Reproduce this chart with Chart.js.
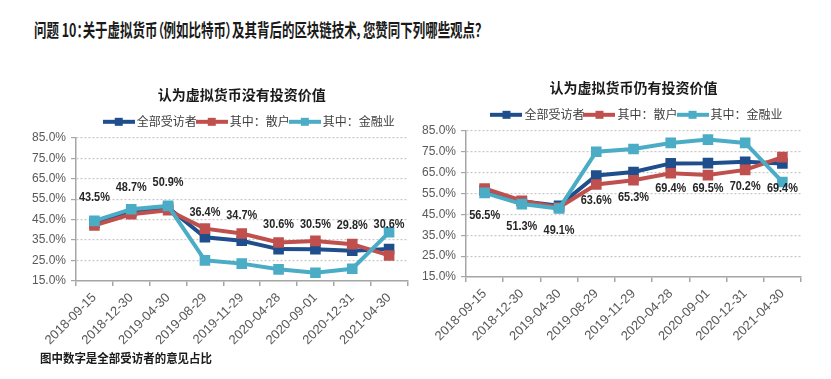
<!DOCTYPE html>
<html><head><meta charset="utf-8">
<script src="https://cdn.jsdelivr.net/npm/chart.js@4"></script>
<style>
html,body{margin:0;padding:0;background:#fff;width:831px;height:379px;overflow:hidden;position:relative;font-family:"Noto Sans CJK SC",sans-serif;}
#title{position:absolute;left:34px;top:16px;font-size:18px;font-weight:bold;color:#1a1a1a;white-space:nowrap;font-feature-settings:"palt";transform-origin:0 50%;}
#note{position:absolute;left:40px;top:349px;font-size:12px;font-weight:bold;color:#1a1a1a;white-space:nowrap;transform-origin:0 50%;}
#c1{position:absolute;left:0;top:70px;}
#c2{position:absolute;left:415px;top:70px;}
</style></head>
<body>
<div id="title">问题 10：关于虚拟货币（例如比特币）及其背后的区块链技术，您赞同下列哪些观点？</div>
<canvas id="c1" width="415" height="300"></canvas>
<canvas id="c2" width="416" height="300"></canvas>
<div id="note">图中数字是全部受访者的意见占比</div>
<script>
const categories = ['2018-09-15','2018-12-30','2019-04-30','2019-08-29','2019-11-29','2020-04-28','2020-09-01','2020-12-31','2021-04-30'];
const seriesNames = ['全部受访者','其中：散户','其中：金融业'];
const yTicks = [15,25,35,45,55,65,75,85];
// 认为虚拟货币没有投资价值
const noValueAll    = [43.5,48.7,50.9,36.4,34.7,30.6,30.5,29.8,30.6];
const noValueRetail = [42.2,47.6,49.6,40.6,38.2,33.8,34.6,33.0,27.5];
const noValueFin    = [44.4,50.1,51.7,25.1,23.5,20.7,19.0,21.0,38.8];
// 认为虚拟货币仍有投资价值
const hasValueAll    = [56.5,51.3,49.1,63.6,65.3,69.4,69.5,70.2,69.4];
const hasValueRetail = [57.4,51.5,48.3,59.3,61.3,64.7,63.8,66.3,72.4];
const hasValueFin    = [55.3,49.9,47.8,75.0,76.3,79.2,80.8,79.2,60.5];

const colors = ['#1F4E8C','#C0504D','#4BACC6'];
const REG = "'Liberation Sans',Arial,sans-serif";
const CJK = "'Noto Sans CJK SC',sans-serif";

function fitWidth(id, w){
  const el = document.getElementById(id);
  el.style.transform = 'scaleX(' + (w / el.offsetWidth) + ')';
}
fitWidth('title', 447);
fitWidth('note', 172);

function legendIcon(color){
  const c = document.createElement('canvas');
  c.width = 32; c.height = 10;
  const g = c.getContext('2d');
  g.fillStyle = color;
  g.fillRect(0,3,32,4);
  g.fillRect(12,1,8,8);
  return c;
}
const icons = colors.map(legendIcon);

const labelPlugin = {
  id:'valLabels',
  afterLayout(chart, args, opts){
    const lg = chart.legend;
    if (lg && opts.legendDx){ lg.left += opts.legendDx; lg.right += opts.legendDx; }
  },
  afterDatasetsDraw(chart, args, opts){
    const ctx = chart.ctx;
    const meta = chart.getDatasetMeta(0);
    const data = chart.data.datasets[0].data;
    ctx.save();
    ctx.font = "bold 13px " + REG;
    ctx.fillStyle = '#262626';
    ctx.textAlign = 'center';
    ctx.textBaseline = 'middle';
    meta.data.forEach((pt,i)=>{
      ctx.save();
      ctx.translate(pt.x, pt.y + opts.dy);
      ctx.scale(0.84, 1);
      ctx.fillText(data[i].toFixed(1)+'%', 0, 0);
      ctx.restore();
    });
    ctx.restore();
  }
};

function makeChart(id, title, vals, cfg){
  const datasets = vals.map((v,i)=>({
    label: seriesNames[i],
    data: v,
    borderColor: colors[i],
    backgroundColor: colors[i],
    borderWidth: 4,
    pointStyle: 'rect',
    pointRadius: 7.5,
    pointHoverRadius: 7.5,
    pointBorderWidth: 0,
    tension: 0,
    order: 3 - i
  }));
  return new Chart(document.getElementById(id), {
    type:'line',
    data:{labels:categories, datasets},
    plugins:[labelPlugin],
    options:{
      responsive:false, animation:false,
      layout:{padding:{top:cfg.padTop,right:cfg.padRight,left:0,bottom:0}},
      plugins:{
        valLabels:{dy:cfg.dy, legendDx:cfg.legendDx},
        tooltip:{enabled:false},
        title:{display:true,text:title,color:'#1a1a1a',fullSize:false,
          font:{family:CJK,size:14,weight:'bold'},
          padding:{top:0,bottom:10}},
        legend:{display:true,position:'top',fullSize:false,
          labels:{usePointStyle:true,pointStyleWidth:24,boxHeight:15,padding:3,color:'#404040',
            font:{family:CJK,size:12},
            generateLabels(chart){
              return chart.data.datasets.map((d,i)=>({text:d.label,pointStyle:icons[i],fillStyle:colors[i],strokeStyle:colors[i],lineWidth:0,datasetIndex:i,fontColor:'#404040'}));
            }}}
      },
      scales:{
        x:{
          offset:true,
          grid:{display:true,offset:true,drawOnChartArea:false,drawTicks:true,tickLength:5,color:'#A6A6A6',lineWidth:1.5},
          border:{display:true,color:'#A6A6A6',width:1.5},
          ticks:{minRotation:45,maxRotation:45,color:'#595959',padding:4,font:{family:REG,size:13}},
          afterFit(s){s.height = cfg.xH;}
        },
        y:{
          min:15,max:85,
          afterBuildTicks(s){s.ticks = yTicks.map(v=>({value:v}));},
          grid:{color:'#C8C8C8',lineWidth:1.2,drawTicks:true,tickLength:5,tickColor:'#A6A6A6',tickWidth:1.2},
          border:{display:true,color:'#A6A6A6',width:1.5,dash:[2,2]},
          ticks:{color:'#595959',padding:5,font:{family:REG,size:12},callback:v=>v.toFixed(1)+'%'},
          afterFit(s){s.width = cfg.yW;}
        }
      }
    }
  });
}

makeChart('c1','认为虚拟货币没有投资价值',[noValueAll,noValueRetail,noValueFin],
  {padTop:16,padRight:5,xH:89,yW:76,dy:-25,legendDx:9});
makeChart('c2','认为虚拟货币仍有投资价值',[hasValueAll,hasValueRetail,hasValueFin],
  {padTop:9,padRight:30,xH:93,yW:51,dy:25,legendDx:5});
</script>
</body></html>
